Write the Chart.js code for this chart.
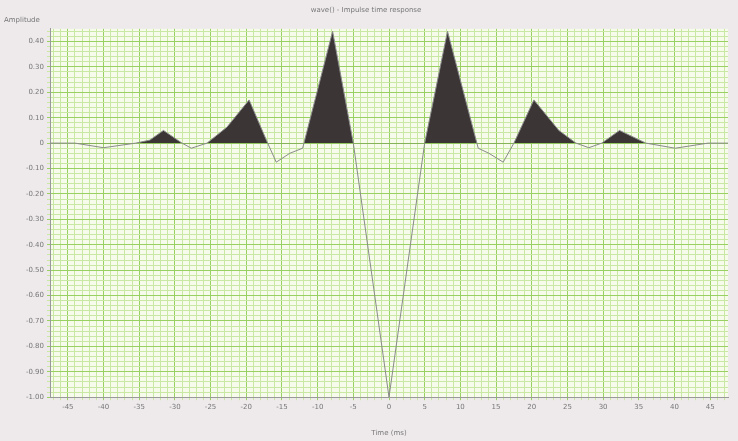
<!DOCTYPE html>
<html>
<head>
<meta charset="utf-8">
<script src="https://cdn.jsdelivr.net/npm/chart.js@4/dist/chart.umd.min.js"></script>
<style>
  body { margin: 0; background: #eeeaec; }
  canvas { display: block; }
</style>
</head>
<body>
<canvas id="chart" width="738" height="441"></canvas>
<script>
// time axis (ms) and amplitude samples
var timeMs = [-47.5, -44, -40, -35.5, -33.5, -31.6, -29, -27.7, -25.5, -22.7, -19.6, -17, -15.8, -13.9, -12.1, -7.9, -5,
              0, 5, 8.2, 12.5, 14, 16, 17.5, 20.3, 23.8, 26.2, 28, 29.8, 32.3, 36, 40.1, 44.7, 47.5]
var amplitude = [0, 0, -0.018, 0, 0.012, 0.05, 0, -0.02, 0, 0.063, 0.17, 0, -0.075, -0.04, -0.02, 0.44, 0,
                 -1.0, 0, 0.44, -0.02, -0.04, -0.075, 0, 0.17, 0.05, 0, -0.018, 0, 0.05, 0, -0.02, 0, 0]

var xTicks = []
for (let t = -47; t <= 47; t++) xTicks.push(t)
var yTicks = []
for (let k = -50; k <= 22; k++) yTicks.push(k / 50)

function isMajor(v, step) {
    let r = Math.abs(v / step - Math.round(v / step))
    return r < 1e-6
}

var plotBackground = {
    id: 'plotBackground',
    beforeDraw(chart) {
        let a = chart.chartArea
        let c = chart.ctx
        c.save()
        c.fillStyle = '#f6fbec'
        c.fillRect(a.left, a.top, a.right - a.left, a.bottom - a.top)
        c.restore()
    }
}

var ctx = document.getElementById('chart').getContext('2d')
window.chart = new Chart(ctx, {
    type: 'line',
    data: {
        datasets: [{
            data: timeMs.map((t, i) => ({ x: t, y: amplitude[i] })),
            borderColor: '#8a8a8a',
            borderWidth: 1,
            pointRadius: 0,
            tension: 0,
            fill: { target: 'origin', above: '#3b3535', below: 'rgba(0,0,0,0)' }
        }]
    },
    options: {
        responsive: false,
        animation: false,
        layout: { padding: { left: 4, right: 10, top: 2, bottom: 2 } },
        plugins: {
            legend: { display: false },
            tooltip: { enabled: false },
            title: {
                display: true,
                text: 'wave() - Impulse time response',
                color: '#777',
                font: { family: 'DejaVu Sans', size: 7, weight: 'normal' },
                padding: { top: 4, bottom: 1 }
            },
            subtitle: {
                display: true,
                text: 'Amplitude',
                align: 'start',
                color: '#777',
                font: { family: 'DejaVu Sans', size: 7 },
                padding: { top: 1, bottom: 4 }
            }
        },
        scales: {
            x: {
                type: 'linear',
                min: -47.5,
                max: 47.5,
                afterBuildTicks: function (scale) {
                    scale.ticks = xTicks.map(v => ({ value: v }))
                },
                ticks: {
                    autoSkip: false,
                    maxRotation: 0,
                    color: '#777',
                    font: { family: 'DejaVu Sans', size: 7 },
                    callback: function (v) { return isMajor(v, 5) ? String(v) : '' }
                },
                grid: {
                    color: function (c) { return isMajor(c.tick.value, 5) ? '#98d062' : '#c9e8a4' },
                    tickLength: 3
                },
                border: { color: '#999' },
                title: {
                    display: true,
                    text: 'Time (ms)',
                    color: '#777',
                    font: { family: 'DejaVu Sans', size: 7 },
                    padding: { top: 14, bottom: 2 }
                }
            },
            y: {
                min: -1.0,
                max: 0.45,
                afterBuildTicks: function (scale) {
                    scale.ticks = yTicks.map(v => ({ value: v }))
                },
                ticks: {
                    autoSkip: false,
                    color: '#777',
                    font: { family: 'DejaVu Sans', size: 7 },
                    callback: function (v) {
                        if (!isMajor(v, 0.1)) return ''
                        if (Math.abs(v) < 1e-6) return '0'
                        return v.toFixed(2)
                    }
                },
                grid: {
                    color: function (c) { return isMajor(c.tick.value, 0.1) ? '#98d062' : '#c9e8a4' },
                    tickLength: 3
                },
                border: { color: '#999' },
                afterFit: function (scale) { scale.width = 46 }
            }
        }
    },
    plugins: [plotBackground]
})
</script>
</body>
</html>
